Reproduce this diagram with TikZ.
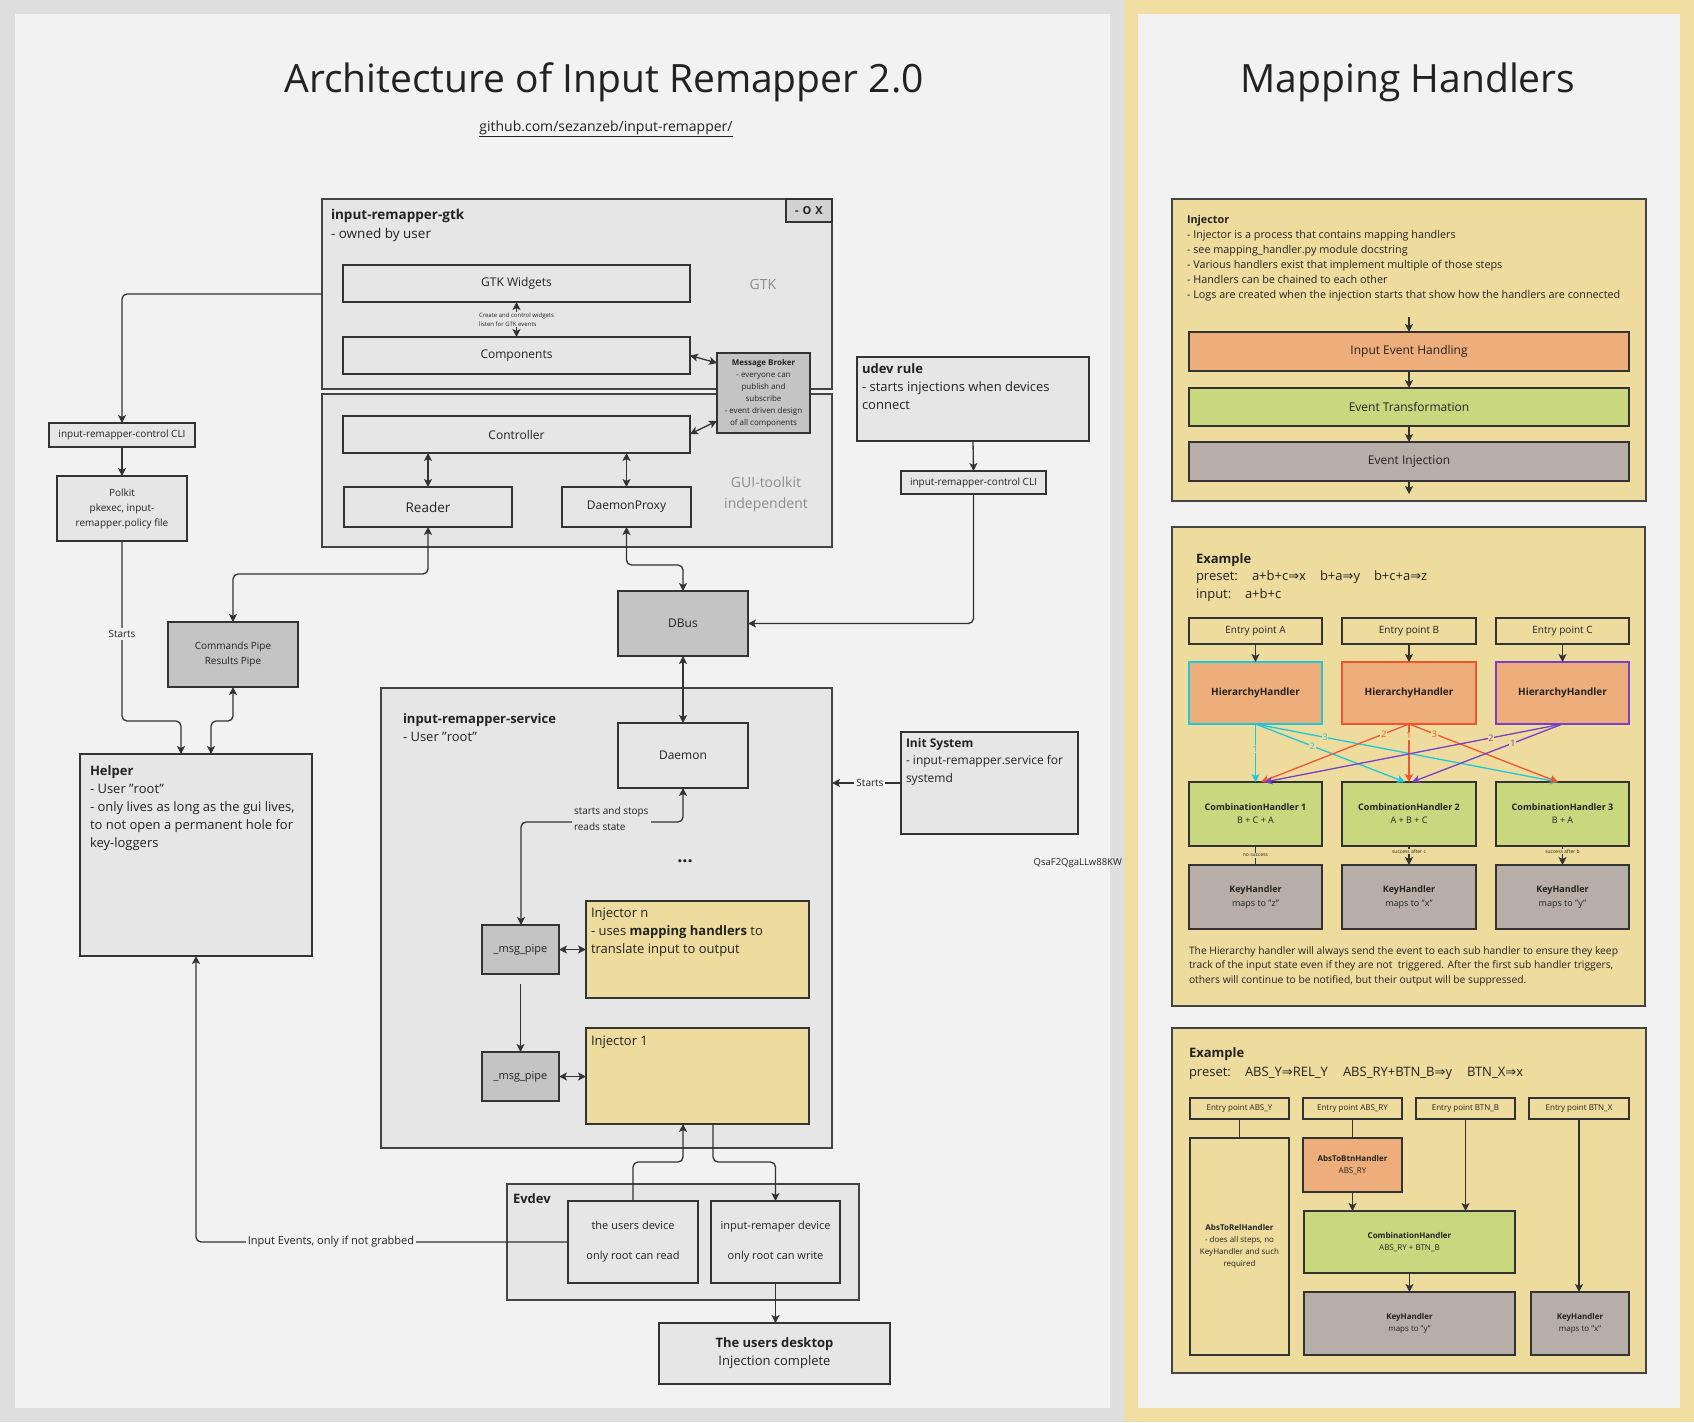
\documentclass[tikz,border=0pt]{standalone}
\usepackage{fontspec}
\setmainfont{Open Sans}
\newfontfamily\djv{DejaVu Sans}
\usetikzlibrary{arrows.meta,calc}
\definecolor{bgout}{HTML}{DEDEDE}
\definecolor{panel}{HTML}{F2F2F2}
\definecolor{yband}{HTML}{F0DEA3}
\definecolor{ybox}{HTML}{EEDC9E}
\definecolor{lgrey}{HTML}{E6E6E6}
\definecolor{dgrey}{HTML}{C4C4C4}
\definecolor{oxgrey}{HTML}{D2D2D2}
\definecolor{orng}{HTML}{EEAE7B}
\definecolor{grn}{HTML}{C9D87F}
\definecolor{taupe}{HTML}{B7AEA8}
\definecolor{txt}{HTML}{222222}
\definecolor{edge}{HTML}{333333}
\definecolor{cedge}{HTML}{444444}
\definecolor{cyn}{HTML}{1EC8D7}
\definecolor{redl}{HTML}{F2542D}
\definecolor{purp}{HTML}{7A3FC9}
\definecolor{gtxt}{HTML}{8C8C8C}
\newcommand{\fs}[2]{\fontsize{#1}{#2}\selectfont}
\newcommand{\fl}{\rule{0pt}{0.8em}}
\newcommand{\rimp}{{\djv ⇒}}
\newcommand{\bx}[7]{\node[#6, minimum width={(#4)-(#2)}, minimum height={(#5)-(#3)}] (#1) at ({((#2)+(#4))/2},{((#3)+(#5))/2}) {#7};}
\begin{document}
\begin{tikzpicture}[x=1pt,y=-1pt,
  >={Stealth[length=8pt,width=8pt,inset=2pt]},
  nbox/.style={draw=edge, line width=1.5pt, fill=lgrey, inner sep=2pt, outer sep=0pt, align=center, text=txt},
  cont/.style={nbox, draw=cedge},
  ybx/.style={nbox, fill=ybox, draw=cedge},
  ent/.style={nbox, fill=ybox, line width=1.3pt},
  lbl/.style={inner sep=0pt, outer sep=0pt, align=left, anchor=north west, text=txt},
  glbl/.style={inner sep=0pt, align=center, text=gtxt},
  arr/.style={draw=edge, line width=1.3pt, ->},
  dbl/.style={draw=edge, line width=1.3pt, <->},
  plain/.style={draw=edge, line width=1.3pt},
  harr/.style={line width=1.3pt, ->},
  num/.style={fill=ybox, inner sep=0.8pt, font={\fs{9}{10}}},
  tiny/.style={fill=ybox, inner sep=0.8pt, text=txt, font={\fs{5}{6}}},
  clbl/.style={fill=panel, inner sep=2pt, text=txt, font={\fs{10}{12}}}
]
\useasboundingbox (0,0) rectangle (1694,1422);
% backgrounds
\fill[bgout] (0,0) rectangle (1124,1422);
\fill[yband] (1124,0) rectangle (1694,1422);
\fill[panel] (15,14) rectangle (1110,1408);
\fill[panel] (1138,14) rectangle (1680,1408);

% titles
\node[anchor=base, inner sep=0pt, text=txt, font={\fs{39}{46}}] (title) at (604,92) {Architecture of Input Remapper 2.0};
\node[anchor=base, inner sep=0pt, text=txt, font={\fs{14}{17}}] (gh) at (606,131) {\underline{github.com/sezanzeb/input-remapper/}};
\node[anchor=base, inner sep=0pt, text=txt, font={\fs{39}{46}}] (mht) at (1408,92) {Mapping Handlers};

% gtk
\bx{gtk}{322}{199}{832}{389}{cont}{}
\bx{gtkb}{322}{394}{832}{547}{cont}{}
\bx{oxb}{786}{199}{832}{222}{nbox, fill=oxgrey, font={\fs{11}{13}\bfseries}}{-\hspace{4pt}O\hspace{4pt}X}
\node[lbl, font={\fs{13.5}{18.5}}] (gtkt) at (331,209) {\fl\textbf{input-remapper-gtk}\\- owned by user};
\bx{gw}{343}{265}{690}{302}{nbox, font={\fs{12}{14}}}{GTK Widgets}
\bx{comp}{343}{337}{690}{374}{nbox, font={\fs{12}{14}}}{Components}
\bx{ctrl}{343}{416}{690}{453}{nbox, font={\fs{12}{14}}}{Controller}
\bx{reader}{344}{487}{512}{527}{nbox, font={\fs{13.5}{16}}}{Reader}
\bx{dproxy}{562}{487}{691}{527}{nbox, font={\fs{12}{14}}}{DaemonProxy}
\node[glbl, font={\fs{14}{17}}] (gtkl) at (763,284) {GTK};
\node[glbl, font={\fs{14}{21}}] (guil) at (766,494) {GUI-toolkit\\independent};
\bx{mb}{717}{353}{810}{433}{nbox, fill=dgrey, font={\fs{8}{12}}}{\textbf{Message Broker}\\- everyone can\\publish and\\subscribe\\- event driven design\\of all components}
\draw[dbl] (gw.south) -- (comp.north);
\node[lbl, anchor=west, fill=lgrey, inner sep=1pt, font={\fs{6}{9}}] (cw) at (478,319.5) {Create and control widgets\\listen for GTK events};
\draw[dbl] (comp.east) -- (mb.west |- 0,363);
\draw[dbl] (ctrl.east |- 0,434) -- (mb.west |- 0,421);
\draw[dbl] (ctrl.south -| reader.north) -- (reader.north);
\draw[dbl] (ctrl.south -| dproxy.north) -- (dproxy.north);

% left column
\bx{cli}{49}{423}{195}{447}{nbox, font={\fs{10}{12}}}{input-remapper-control CLI}
\bx{polkit}{57}{476}{187}{541}{nbox, font={\fs{10}{15}}}{Polkit\\pkexec, input-\\remapper.policy file}
\bx{pipe}{168}{622}{298}{687}{nbox, fill=dgrey, font={\fs{10}{15}}}{Commands Pipe\\Results Pipe}
\bx{helper}{80}{754}{312}{956}{nbox}{}
\node[lbl, font={\fs{13}{18}}] (helpert) at (90,765) {\fl\textbf{Helper}\\- User "root"\\- only lives as long as the gui lives,\\to not open a permanent hole for\\key-loggers};
\draw[arr, rounded corners=5pt] (gtk.west) -| (cli.north);
\draw[arr] (cli.south) -- (polkit.north);
\coordinate (pk) at (181,721);
\draw[arr, rounded corners=5pt] (polkit.south) |- (pk) -- (pk |- helper.north);
\node[clbl] (starts1) at (122,634) {Starts};
\coordinate (pp) at (211,721);
\draw[dbl, rounded corners=5pt] (pipe.south) |- (pp) -- (pp |- helper.north);
\coordinate (rp) at (233,574);
\draw[dbl, rounded corners=5pt] (reader.south) |- (rp) -- (rp |- pipe.north);

% center column
\bx{dbus}{618}{591}{748}{656}{nbox, fill=dgrey, font={\fs{12}{14}}}{DBus}
\bx{svc}{381}{688}{832}{1148}{cont}{}
\node[lbl, font={\fs{13}{18}}] (svct) at (403,712.6) {\fl\textbf{input-remapper-service}\\- User "root"};
\bx{daemon}{618}{723}{748}{788}{nbox, font={\fs{12}{14}}}{Daemon}
\node[inner sep=0pt, text=txt, font={\fs{18}{20}\bfseries}] (dots) at (685,861) {...};
\bx{msg1}{482}{925}{559}{974}{nbox, fill=dgrey, font={\fs{11}{13}}}{\_msg\_pipe}
\bx{injn}{586}{901}{809}{998}{nbox, fill=ybox}{}
\node[lbl, font={\fs{13}{18}}] (injnt) at (591,906.6) {\fl Injector n\\- uses \textbf{mapping handlers} to\\translate input to output};
\bx{msg2}{482}{1052}{559}{1101}{nbox, fill=dgrey, font={\fs{11}{13}}}{\_msg\_pipe}
\bx{inj1}{586}{1028}{809}{1124}{nbox, fill=ybox}{}
\node[lbl, font={\fs{13}{18}}] (inj1t) at (591,1034.6) {\fl Injector 1};

\coordinate (dp) at (683,565);
\draw[dbl, rounded corners=5pt] (dproxy.south) |- (dp) -- (dbus.north);
\draw[dbl] (dbus.south) -- (daemon.north);
\coordinate (ds) at (521,822);
\draw[dbl, rounded corners=5pt] (daemon.south) |- (ds) -- (ds |- msg1.north);
\node[lbl, anchor=west, fill=lgrey, inner sep=2pt, font={\fs{10}{16}}] (ssl) at (572,819) {starts and stops\\reads state};
\draw[dbl] (msg1.east) -- (msg1.east -| injn.west);
\draw[arr] ($(msg1.south)+(0,10)$) -- (msg2.north);
\draw[dbl] (msg2.east) -- (msg2.east -| inj1.west);

% udev / init
\bx{udev}{857}{357}{1089}{441}{nbox}{}
\node[lbl, font={\fs{13}{18}}] (udevt) at (862,362.6) {\fl\textbf{udev rule}\\- starts injections when devices\\connect};
\bx{cli2}{901}{471}{1046}{494}{nbox, font={\fs{10}{12}}}{input-remapper-control CLI}
\draw[arr] (udev.south) -- (cli2.north);
\draw[arr, rounded corners=5pt] (cli2.south) |- (dbus.east);
\bx{init}{901}{732}{1078}{834}{nbox}{}
\node[lbl, font={\fs{12}{17.5}}] (initt) at (906,737.4) {\fl\textbf{Init System}\\- input-remapper.service for\\systemd};
\draw[arr] (init.west) -- node[clbl, pos=0.45] {Starts} (init.west -| svc.east);
\node[anchor=base east, inner sep=0pt, text=txt, font={\fs{9.5}{11}}] (qsa) at (1122,865) {QsaF2QgaLLw88KW};

% evdev
\bx{evdev}{507}{1184}{859}{1300}{cont}{}
\node[lbl, font={\fs{13}{16}}] (evdevt) at (513,1192.6) {\fl\textbf{Evdev}};
\bx{udevice}{568}{1201}{698}{1283}{nbox, font={\fs{11}{30}}}{the users device\\only root can read}
\bx{rdevice}{711}{1201}{840}{1283}{nbox, font={\fs{11}{30}}}{input-remaper device\\only root can write}
\bx{desk}{659}{1323}{890}{1384}{nbox, font={\fs{13}{18}}}{\textbf{The users desktop}\\Injection complete}
\coordinate (u1) at (683,1162);
\draw[arr, rounded corners=5pt] (udevice.north) |- (u1) -- (u1 |- inj1.south);
\coordinate (u2) at (713,1162);
\draw[arr, rounded corners=5pt] (u2 |- inj1.south) -- (u2) -| (rdevice.north);
\draw[arr] (rdevice.south) -- (rdevice.south |- desk.north);
\coordinate (ie) at (196,1242);
\draw[arr, rounded corners=5pt] (udevice.west) -- (ie) -- (ie |- helper.south);
\node[clbl, font={\fs{11}{13}}] (iel) at (331,1242) {Input Events, only if not grabbed};

% ===== right panel =====
\bx{injb}{1172}{199}{1646}{501}{ybx}{}
\node[lbl, font={\fs{10.8}{15}}] (injbt) at (1187,214.4) {\fl\textbf{Injector}\\- Injector is a process that contains mapping handlers\\- see mapping\_handler.py module docstring\\- Various handlers exist that implement multiple of those steps\\- Handlers can be chained to each other\\- Logs are created when the injection starts that show how the handlers are connected};
\coordinate (ia) at (1409,317);
\bx{ieh}{1189}{332}{1629}{371}{nbox, fill=orng, font={\fs{12}{14}}}{Input Event Handling}
\bx{et}{1189}{388}{1629}{426}{nbox, fill=grn, font={\fs{12}{14}}}{Event Transformation}
\bx{ei}{1189}{442}{1629}{481}{nbox, fill=taupe, font={\fs{12}{14}}}{Event Injection}
\coordinate (ib) at (1409,494);
\draw[arr] (ia) -- (ieh.north);
\draw[arr] (ieh.south) -- (et.north);
\draw[arr] (et.south) -- (ei.north);
\draw[arr] (ei.south) -- (ib);

% example 1
\bx{ex1}{1172}{527}{1645}{1006}{ybx}{}
\node[lbl, font={\fs{13}{17.5}}] (ex1t) at (1196,552.6) {\fl\textbf{Example}\\\makebox[56pt][l]{preset:}\makebox[68pt][l]{a+b+c\rimp x}\makebox[54pt][l]{b+a\rimp y}b+c+a\rimp z\\\makebox[49pt][l]{input:}a+b+c};
\bx{ea}{1189}{618}{1322}{644}{ent, font={\fs{10}{12}}}{Entry point A}
\bx{eb}{1342}{618}{1476}{644}{ent, font={\fs{10}{12}}}{Entry point B}
\bx{ec}{1496}{618}{1629}{644}{ent, font={\fs{10}{12}}}{Entry point C}
\bx{ha}{1189}{662}{1322}{724}{nbox, fill=orng, draw=cyn, font={\fs{10}{12}\bfseries}}{HierarchyHandler}
\bx{hb}{1342}{662}{1476}{724}{nbox, fill=orng, draw=redl, font={\fs{10}{12}\bfseries}}{HierarchyHandler}
\bx{hc}{1496}{662}{1629}{724}{nbox, fill=orng, draw=purp, font={\fs{10}{12}\bfseries}}{HierarchyHandler}
\bx{c1}{1189}{782}{1322}{846}{nbox, fill=grn, font={\fs{9}{13}}}{\textbf{CombinationHandler 1}\\B + C + A}
\bx{c2}{1342}{782}{1476}{846}{nbox, fill=grn, font={\fs{9}{13}}}{\textbf{CombinationHandler 2}\\A + B + C}
\bx{c3}{1496}{782}{1629}{846}{nbox, fill=grn, font={\fs{9}{13}}}{\textbf{CombinationHandler 3}\\B + A}
\bx{k1}{1189}{865}{1322}{929}{nbox, fill=taupe, font={\fs{9}{14}}}{\textbf{KeyHandler}\\maps to "z"}
\bx{k2}{1342}{865}{1476}{929}{nbox, fill=taupe, font={\fs{9}{14}}}{\textbf{KeyHandler}\\maps to "x"}
\bx{k3}{1496}{865}{1629}{929}{nbox, fill=taupe, font={\fs{9}{14}}}{\textbf{KeyHandler}\\maps to "y"}
\draw[arr] (ea.south) -- (ha.north);
\draw[arr] (eb.south) -- (hb.north);
\draw[arr] (ec.south) -- (hc.north);
\draw[harr, cyn] (ha.south) -- node[num, pos=0.43] {1} (c1.north);
\draw[harr, cyn] (ha.south) -- node[num, pos=0.38] {2} ($(c2.north)+(-4,0)$);
\draw[harr, cyn] (ha.south) -- node[num, pos=0.23] {3} ($(c3.north)+(-4.5,0)$);
\draw[harr, redl] (hb.south) -- node[num, pos=0.17] {2} ($(c1.north)+(5.5,0)$);
\draw[harr, redl] (hb.south) -- node[num, pos=0.2] {1} (c2.north);
\draw[harr, redl] (hb.south) -- node[num, pos=0.17] {3} ($(c3.north)+(-4.5,0)$);
\draw[harr, purp] (hc.south) -- node[num, pos=0.24] {2} ($(c1.north)+(9,0)$);
\draw[harr, purp] (hc.south) -- node[num, pos=0.33] {1} ($(c2.north)+(3,0)$);
\draw[plain] (c1.south) -- node[tiny] {no success} (k1.north);
\draw[arr] (c2.south) -- node[tiny, pos=0.3] {success after c} (k2.north);
\draw[arr] (c3.south) -- node[tiny, pos=0.3] {success after b} (k3.north);
\node[lbl, font={\fs{10.3}{14.5}}] (foot) at (1189,945.8) {\fl The Hierarchy handler will always send the event to each sub handler to ensure they keep\\track of the input state even if they are not\ \ triggered. After the first sub handler triggers,\\others will continue to be notified, but their output will be suppressed.};

% example 2
\bx{ex2}{1172}{1028}{1646}{1373}{ybx}{}
\node[lbl, font={\fs{13}{19}}] (ex2t) at (1189,1046.6) {\fl\textbf{Example}\\\makebox[56pt][l]{preset:}\makebox[98pt][l]{ABS\_Y\rimp REL\_Y}\makebox[124pt][l]{ABS\_RY+BTN\_B\rimp y}BTN\_X\rimp x};
\bx{e1}{1190}{1098}{1289}{1119}{ent, font={\fs{8}{10}}}{Entry point ABS\_Y}
\bx{e2}{1303}{1098}{1402}{1119}{ent, font={\fs{8}{10}}}{Entry point ABS\_RY}
\bx{e3}{1416}{1098}{1515}{1119}{ent, font={\fs{8}{10}}}{Entry point BTN\_B}
\bx{e4}{1529}{1098}{1629}{1119}{ent, font={\fs{8}{10}}}{Entry point BTN\_X}
\bx{atr}{1190}{1138}{1289}{1355}{ent, font={\fs{8}{12}}}{\textbf{AbsToRelHandler}\\- does all steps, no\\KeyHandler and such\\required}
\bx{atb}{1303}{1138}{1402}{1192}{nbox, fill=orng, font={\fs{8}{12}}}{\textbf{AbsToBtnHandler}\\ABS\_RY}
\bx{cmb}{1304}{1211}{1515}{1273}{nbox, fill=grn, font={\fs{8}{12}}}{\textbf{CombinationHandler}\\ABS\_RY + BTN\_B}
\bx{ky}{1304}{1292}{1515}{1355}{nbox, fill=taupe, font={\fs{8}{12}}}{\textbf{KeyHandler}\\maps to "y"}
\bx{kx}{1531}{1292}{1629}{1355}{nbox, fill=taupe, font={\fs{8}{12}}}{\textbf{KeyHandler}\\maps to "x"}
\draw[plain] (e1.south) -- (atr.north);
\draw[plain] (e2.south) -- (atb.north);
\draw[arr] (atb.south) -- (atb.south |- cmb.north);
\draw[arr] (e3.south) -- (e3.south |- cmb.north);
\draw[arr] (cmb.south) -- (ky.north);
\draw[arr] (e4.south) -- (e4.south |- kx.north);
\end{tikzpicture}
\end{document}
